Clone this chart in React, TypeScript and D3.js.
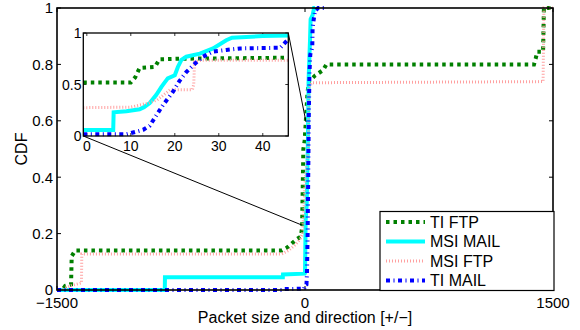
import React from "react";
import * as d3 from "d3";

// ---------- data (main chart) ----------
const tiFtpX = [-1500, -1468, -1450, -1415, -1411, -1390, -140, -110, -80, -50, -25, -18, -14, -10, -2, 5, 15, 25, 60, 110, 130, 1385, 1395, 1405, 1440, 1445, 1500];
const tiFtpY = [0, 0, 0.015, 0.02, 0.12, 0.14, 0.14, 0.15, 0.165, 0.18, 0.19, 0.22, 0.35, 0.5, 0.53, 0.6, 0.7, 0.74, 0.76, 0.78, 0.8, 0.8, 0.82, 0.845, 0.845, 1, 1];

const msiMailX = [-1500, -848, -847, -134, -133, -2, 0, 4, 10, 17, 22, 30, 34, 46, 55, 60];
const msiMailY = [0, 0, 0.045, 0.045, 0.055, 0.058, 0.06, 0.25, 0.3, 0.5, 0.75, 0.88, 0.96, 0.975, 1, 1];

const msiFtpX = [-1500, -1470, -1440, -1400, -1352, -1350, -140, -100, -60, -30, -15, -5, 0, 10, 20, 24, 40, 1440, 1445, 1500];
const msiFtpY = [0, 0, 0.01, 0.018, 0.025, 0.128, 0.128, 0.14, 0.16, 0.18, 0.2, 0.3, 0.38, 0.45, 0.5, 0.72, 0.735, 0.739, 1, 1];

const tiMailX = [-1500, -140, -130, -5, 0, 9, 12, 16, 20, 23, 27, 32, 44, 46, 60, 80, 130];
const tiMailY = [0, 0, 0.003, 0.005, 0.017, 0.02, 0.06, 0.2, 0.43, 0.62, 0.77, 0.835, 0.86, 0.93, 0.99, 1, 1];

// ---------- data (inset) ----------
const inTiFtpX = [-0.8, 10, 11, 12, 15.5, 16.5, 21, 45.8];
const inTiFtpY = [0.52, 0.52, 0.57, 0.66, 0.67, 0.745, 0.75, 0.76];

const inMsiMailX = [-0.8, 6, 6.1, 9, 12, 13, 14.3, 15.8, 17, 18.4, 20, 20.7, 21.5, 22.6, 25.7, 28.7, 31.7, 33, 40, 45.8];
const inMsiMailY = [0.058, 0.058, 0.23, 0.24, 0.26, 0.28, 0.32, 0.4, 0.48, 0.56, 0.59, 0.67, 0.74, 0.77, 0.8, 0.85, 0.93, 0.955, 0.97, 0.975];

const inMsiFtpX = [-0.8, 10, 12, 14, 16, 17.5, 19, 24, 24.3, 24.5, 26, 45.8];
const inMsiFtpY = [0.275, 0.28, 0.3, 0.32, 0.35, 0.4, 0.45, 0.45, 0.5, 0.72, 0.735, 0.735];

const inTiMailX = [-0.8, 9, 12.8, 14.3, 15.8, 17.3, 19.6, 21, 22.6, 24.5, 26.4, 28.7, 31.7, 34.8, 44, 45.8];
const inTiMailY = [0.017, 0.017, 0.06, 0.1, 0.2, 0.3, 0.43, 0.53, 0.62, 0.7, 0.77, 0.82, 0.835, 0.85, 0.857, 0.94];

// ---------- ticks / labels ----------
const mainXTicks = [-1500, 0, 1500];
const mainYTicks = [0, 0.2, 0.4, 0.6, 0.8, 1];
const insetXTicks = [0, 10, 20, 30, 40];
const insetYTicks = [0, 0.5, 1];
const seriesNames = ["TI FTP", "MSI MAIL", "MSI FTP", "TI MAIL"];
const zoomTargetX = [-18, 6];
const zoomTargetY = [0.23, 0.596];

const styles = [
  { color: "#008000", width: 4, dash: "3.5 4" },
  { color: "#00ffff", width: 4, dash: null },
  { color: "#ffa0a0", width: 3, dash: "1 2" },
  { color: "#0000ff", width: 4, dash: "4 3.5 1 3.5" },
];

const FONT = "'Liberation Sans', Arial, Helvetica, sans-serif";

function zip(xs: number[], ys: number[]) {
  return xs.map((x, i) => [x, ys[i]] as [number, number]);
}

export default function App() {
  const W = 580, H = 330;
  const x = d3.scaleLinear().domain([-1500, 1500]).range([57, 553]);
  const y = d3.scaleLinear().domain([0, 1]).range([290, 8]);
  const ix = d3.scaleLinear().domain([-0.8, 45.8]).range([83.3, 288.3]);
  const iy = d3.scaleLinear().domain([0, 1]).range([136, 33]);

  const mainLine = d3.line<[number, number]>().x((d) => x(d[0])).y((d) => y(d[1]));
  const insetLine = d3.line<[number, number]>().x((d) => ix(d[0])).y((d) => iy(d[1]));

  const mainSeries = [zip(tiFtpX, tiFtpY), zip(msiMailX, msiMailY), zip(msiFtpX, msiFtpY), zip(tiMailX, tiMailY)];
  const insetSeries = [zip(inTiFtpX, inTiFtpY), zip(inMsiMailX, inMsiMailY), zip(inMsiFtpX, inMsiFtpY), zip(inTiMailX, inTiMailY)];

  const [x0, x1] = x.range();
  const [y0, y1] = y.range();
  const [ix0, ix1] = ix.range();
  const [iy0, iy1] = iy.range();

  const legX = 380, legY = 211.5, legW = 174, legH = 79;

  return (
    <svg width={W} height={H} style={{ position: "absolute", left: 0, top: 0, background: "#fff" }} fontFamily={FONT}>
      <rect x={0} y={0} width={W} height={H} fill="#fff" />
      {/* main ticks */}
      {mainXTicks.map((t) => (
        <g key={"mx" + t}>
          <line x1={x(t)} x2={x(t)} y1={y0} y2={y0 - 4} stroke="#000" strokeWidth={1} />
          <line x1={x(t)} x2={x(t)} y1={y1} y2={y1 + 4} stroke="#000" strokeWidth={1} />
          <text x={x(t)} y={308} fontSize={15} textAnchor="middle">{t < 0 ? "\u2212" + Math.abs(t) : String(t)}</text>
        </g>
      ))}
      {mainYTicks.map((t) => (
        <g key={"my" + t}>
          <line x1={x0} x2={x0 + 4} y1={y(t)} y2={y(t)} stroke="#000" strokeWidth={1} />
          <line x1={x1} x2={x1 - 4} y1={y(t)} y2={y(t)} stroke="#000" strokeWidth={1} />
          <text x={53} y={y(t)} dy="0.36em" fontSize={15} textAnchor="end">{String(t)}</text>
        </g>
      ))}
      {/* main series */}
      {mainSeries.map((s, i) => (
        <path key={"ms" + i} d={mainLine(s) || ""} fill="none" stroke={styles[i].color} strokeWidth={styles[i].width}
          strokeDasharray={styles[i].dash || undefined} strokeLinejoin="miter" />
      ))}
      {/* main box */}
      <rect x={x0} y={y1} width={x1 - x0} height={y0 - y1} fill="none" stroke="#000" strokeWidth={1.6} />
      {/* zoom lines */}
      <line x1={ix0} y1={iy0} x2={x(zoomTargetX[0])} y2={y(zoomTargetY[0])} stroke="#000" strokeWidth={1} />
      <line x1={ix1} y1={iy1} x2={x(zoomTargetX[1])} y2={y(zoomTargetY[1])} stroke="#000" strokeWidth={1} />
      {/* inset */}
      <rect x={ix0} y={iy1} width={ix1 - ix0} height={iy0 - iy1} fill="#fff" />
      {insetXTicks.map((t) => (
        <g key={"ix" + t}>
          <line x1={ix(t)} x2={ix(t)} y1={iy0} y2={iy0 - 3} stroke="#000" strokeWidth={0.8} />
          <line x1={ix(t)} x2={ix(t)} y1={iy1} y2={iy1 + 3} stroke="#000" strokeWidth={0.8} />
          <text x={ix(t)} y={151} fontSize={14} textAnchor="middle">{String(t)}</text>
        </g>
      ))}
      {insetYTicks.map((t) => (
        <g key={"iy" + t}>
          <line x1={ix0} x2={ix0 + 3} y1={iy(t)} y2={iy(t)} stroke="#000" strokeWidth={0.8} />
          <line x1={ix1} x2={ix1 - 3} y1={iy(t)} y2={iy(t)} stroke="#000" strokeWidth={0.8} />
          <text x={81.5} y={iy(t)} dy="0.36em" fontSize={14} textAnchor="end">{String(t)}</text>
        </g>
      ))}
      {insetSeries.map((s, i) => (
        <path key={"is" + i} d={insetLine(s) || ""} fill="none" stroke={styles[i].color} strokeWidth={styles[i].width}
          strokeDasharray={styles[i].dash || undefined} strokeLinejoin="miter" />
      ))}
      <rect x={ix0} y={iy1} width={ix1 - ix0} height={iy0 - iy1} fill="none" stroke="#000" strokeWidth={1.3} />
      {/* axis labels */}
      <text x={305} y={322.5} fontSize={16} textAnchor="middle">Packet size and direction [+/{"\u2212"}]</text>
      <text transform={`translate(27,${(y0 + y1) / 2}) rotate(-90)`} fontSize={16} textAnchor="middle">CDF</text>
      {/* legend */}
      <rect x={legX} y={legY} width={legW} height={legH} fill="#fff" stroke="#000" strokeWidth={1.2} />
      {seriesNames.map((n, i) => {
        const cy = 222 + i * 19.5;
        return (
          <g key={"lg" + i}>
            <line x1={386} x2={425} y1={cy} y2={cy} stroke={styles[i].color} strokeWidth={styles[i].width}
              strokeDasharray={styles[i].dash || undefined} />
            <text x={430} y={cy} dy="0.36em" fontSize={16}>{n}</text>
          </g>
        );
      })}
    </svg>
  );
}
